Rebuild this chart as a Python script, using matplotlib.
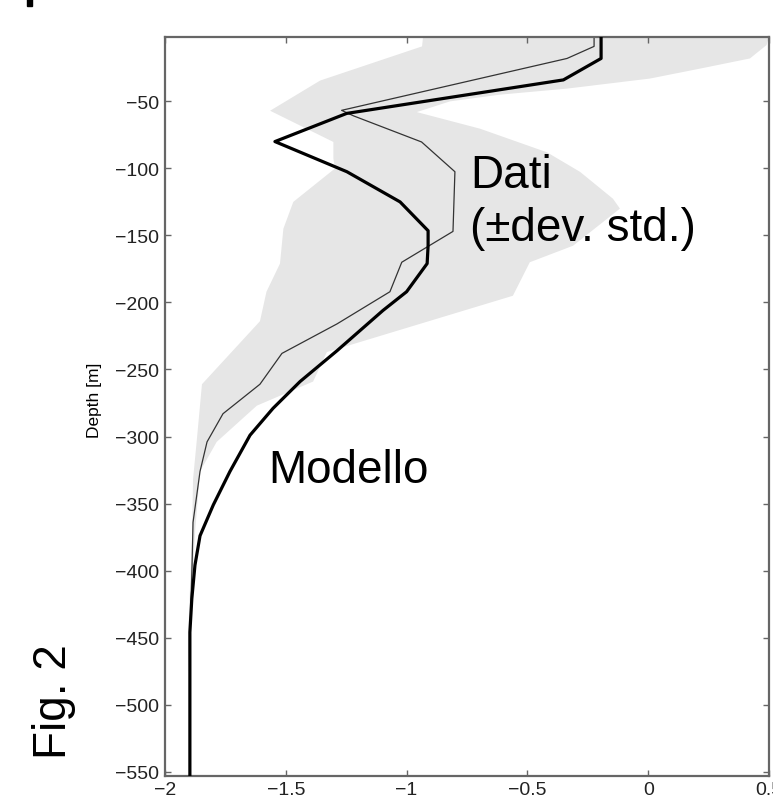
import matplotlib
matplotlib.use('Agg')
import matplotlib.pyplot as plt
import numpy as np
from matplotlib.patches import Rectangle

plt.rcParams['font.family'] = ['Liberation Sans', 'DejaVu Sans']

# modello (linea spessa)
mod_x = [-0.195, -0.195, -0.351, -1.248, -1.545, -1.247, -1.027, -0.911, -0.911, -0.915,
         -1.0, -1.098, -1.288, -1.441, -1.553, -1.648, -1.731, -1.80, -1.855, -1.876,
         -1.889, -1.897, -1.897]
mod_d = [-2, -18, -34, -59, -80, -102.5, -125, -146.5, -157.6, -171,
         -192, -206, -236, -259, -279, -299, -326, -351, -374, -396,
         -421, -446, -553]

# dati (linea sottile)
dat_x = [-0.224, -0.224, -0.336, -1.269, -1.22, -0.938, -0.80, -0.808, -1.02, -1.069,
         -1.288, -1.516, -1.607, -1.76, -1.826, -1.855, -1.884, -1.888, -1.897, -1.897]
dat_d = [-2, -9, -18, -56.7, -60.8, -80.3, -102.5, -147, -170, -192,
         -216, -238, -261, -283, -304, -326, -364, -396, -451, -553]

# banda +- dev. std.
lo_x = [-0.932, -0.936, -1.358, -1.565, -1.303, -1.303, -1.296, -1.469, -1.51, -1.524,
        -1.58, -1.607, -1.847, -1.868, -1.884, -1.888, -1.905, -1.905]
lo_d = [-2, -9, -34.5, -57, -80.3, -92.8, -100, -125, -145, -171,
        -192, -214, -261, -302, -332, -374, -452, -476]
hi_x = [0.5, 0.49, 0.421, 0.214, 0.007, -0.336, -0.613, -0.82, -0.958, -0.696,
        -0.419, -0.282, -0.146, -0.117, -0.311, -0.49, -0.518, -0.56, -1.33, -1.387,
        -1.62, -1.786, -1.855, -1.875, -1.89, -1.905]
hi_d = [-2, -8, -18, -25.6, -33, -40.5, -45, -50, -58, -70.4,
        -88, -102.6, -122.6, -130, -157.7, -170, -180, -195, -237, -259,
        -277, -304, -326, -370, -420, -476]

xticks = [-2, -1.5, -1, -0.5, 0, 0.5]
yticks = [-50, -100, -150, -200, -250, -300, -350, -400, -450, -500, -550]

fig = plt.figure(figsize=(7.73, 8.03), dpi=100)
ax = fig.add_axes([165 / 773, 26.3 / 803, 604 / 773, 738.7 / 803])

ax.fill(np.concatenate([lo_x, hi_x[::-1]]), np.concatenate([lo_d, hi_d[::-1]]),
        color='#e6e6e6', lw=0, zorder=1)
ax.plot(dat_x, dat_d, color='#333333', lw=0.9, zorder=2)
ax.plot(mod_x, mod_d, color='black', lw=2.3, zorder=3)

ax.set_xlim(-2, 0.5)
ax.set_ylim(-553, -2)
ax.set_xticks(xticks)
ax.set_xticklabels(['\u22122', '\u22121.5', '\u22121', '\u22120.5', '0', '0.5'])
ax.set_yticks(yticks)
ax.set_yticklabels(['\u2212%d' % (-v) for v in yticks])
ax.tick_params(direction='in', length=4.5, width=1, color='#666666',
               labelsize=14, labelcolor='#222222', top=True, right=True, pad=4)
for s in ax.spines.values():
    s.set_color('#666666')
    s.set_linewidth(1.6)

ax.text(-0.738, -113.7, 'Dati', fontsize=33, va='baseline', ha='left')
ax.text(-0.738, -153.7, '(\u00b1dev. std.)', fontsize=33, va='baseline', ha='left')
ax.text(-1.574, -333.8, 'Modello', fontsize=33, va='baseline', ha='left')

fig.text(94 / 773, 1 - 400 / 803, 'Depth [m]', rotation=90, fontsize=12.5,
         ha='center', va='center')
fig.text(54 / 773, 1 - 702 / 803, 'Fig. 2', rotation=90, fontsize=33,
         ha='center', va='center')

# piccolo segno nero in alto a sinistra
fig.patches.append(Rectangle((27 / 773, 1 - 7 / 803), 5 / 773, 7 / 803,
                             transform=fig.transFigure, color='black'))

fig.savefig('out.png', dpi=100)
